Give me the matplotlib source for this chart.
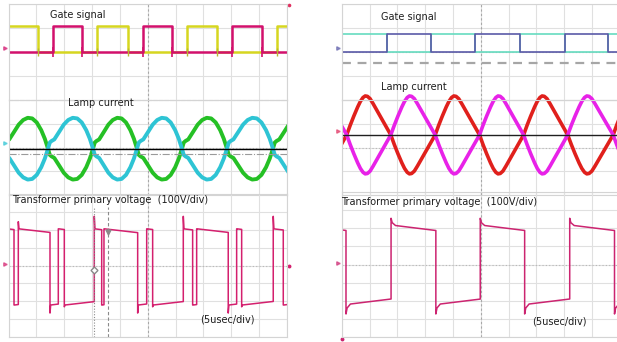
import matplotlib
matplotlib.use("Agg")
import matplotlib.pyplot as plt
from matplotlib.patches import Rectangle
import numpy as np

# ------------------------------------------------------------
# Datos (tiempo en usec, 5 usec/div)
# ------------------------------------------------------------
# Pantalla izquierda
gate_y_edges = [5.3, 15.9, 21.5, 32.0, 37.4, 48.2]          # amarilla, empieza alta
gate_m_edges = [8.0, 13.2, 24.2, 29.4, 40.1, 45.5]          # magenta, empieza baja
gate_left_hi = 1.08                                          # div

lamp_left_cross = [-1.0, 7.09, 15.17, 23.07, 31.14, 39.22, 47.48, 55.6]
lamp_left_amp = 1.3
lamp_left_zero = -0.05
lamp_left_frac = [0, 0.04, 0.08, 0.14, 0.25, 0.35, 0.45, 0.55, 0.65, 0.75, 0.85, 0.93, 1.0]
lamp_left_shape = [0, 0.2, 0.25, 0.3, 0.55, 0.78, 0.93, 1.0, 0.98, 0.85, 0.6, 0.32, 0]

volt_left_edges = [-0.2, 0.99, 1.76, 7.45, 8.94, 10.02, 15.40, 16.73, 17.14, 23.19, 24.81,
                   25.88, 31.38, 33.06, 33.78, 39.45, 40.96, 41.86, 47.53, 49.33]
volt_left_over = [0, 0, 40, 45, 0, 10, 70, 0, 0, 45, 0, 10, 70, 0, 0, 45, 0, 10, 70, 0]
volt_left_hi = 205
volt_left_lo = -221
volt_left_droop = 3.5           # V/usec

# Pantalla derecha
gate_right_edges = [8.07, 16.0, 24.0, 32.0, 40.1, 47.9]
gate_right_hi = 0.75

lamp_right_cross = [-7.1, 0.85, 8.79, 16.79, 24.78, 32.72, 40.67, 48.86, 56.8]
lamp_right_amp = 1.64
lamp_right_zero = 0.53
lamp_right_frac = [0, 0.08, 0.16, 0.25, 0.31, 0.37, 0.42, 0.47, 0.53, 0.6, 0.7, 0.8, 0.9, 1.0]
lamp_right_shape = [0, 0.25, 0.48, 0.72, 0.86, 0.96, 1.0, 0.99, 0.93, 0.8, 0.6, 0.4, 0.2, 0]

volt_right_edges = [-7.3, 0.72, 8.84, 16.91, 24.91, 32.91, 41.03, 49.10]
volt_right_over = [0, 55, 40, 55, 40, 55, 40, 55]
volt_right_hi = 215
volt_right_lo = -218
volt_right_droop = 3.4

W, H = 617, 342


def box(x0, y0, x1, y1):
    return [x0 / W, 1 - y1 / H, (x1 - x0) / W, (y1 - y0) / H]


def step_trace(edges, start, other, t_end=50.0):
    t, v = [0.0], [start]
    cur, nxt = start, other
    for e in edges:
        t += [e, e]
        v += [cur, nxt]
        cur, nxt = nxt, cur
    t.append(t_end)
    v.append(cur)
    return t, v


def lobe_trace(cross, frac, shape, amp, zero, first_sign):
    t, v = [], []
    sign = first_sign
    for c0, c1 in zip(cross[:-1], cross[1:]):
        for f, s in zip(frac, shape):
            t.append(c0 + f * (c1 - c0))
            v.append(zero + sign * amp * s)
        sign = -sign
    return t, v


def volt_trace(edges, over, hi, lo, droop, settle_dt, settle_fr, t_end=50.0):
    t, v = [], []
    level = hi
    for i, s in enumerate(edges):
        e = edges[i + 1] if i + 1 < len(edges) else t_end
        sgn = 1 if level > 0 else -1
        for dt, fr in zip(settle_dt, settle_fr):
            t.append(s + dt)
            v.append(level + sgn * over[i] * fr)
        t.append(e)
        v.append(level - sgn * droop * (e - s))
        level = lo if level == hi else hi
    return t, v


def scope_axes(fig, rect, ylim, ndiv_y):
    ax = fig.add_axes(rect)
    ax.set_xlim(0, 50)
    ax.set_ylim(*ylim)
    ax.set_xticks(np.arange(0, 51, 5))
    ax.set_yticks(np.linspace(ylim[0], ylim[1], ndiv_y + 1))
    ax.tick_params(length=0, labelbottom=False, labelleft=False)
    ax.grid(True, color="#e0e0e0", lw=0.8)
    ax.axvline(25, color="#a8a8a8", lw=0.8, ls=(0, (2, 2)))
    ax.axhline((ylim[0] + ylim[1]) / 2, color="#b8b8b8", lw=0.8, ls=(0, (1, 2)))
    for sp in ax.spines.values():
        sp.set_color("#d4d4d4")
        sp.set_linewidth(0.8)
    ax.set_facecolor("none")
    ax.set_axisbelow(True)
    return ax


def ch_mark(ax, y, color):
    # pequeño indicador de canal en el borde izquierdo
    ax.plot([-0.7], [y], marker=">", ms=2.5, color=color, alpha=0.6, clip_on=False)


fig = plt.figure(figsize=(6.17, 3.42), dpi=100)
fig.patch.set_facecolor("white")
txt = dict(fontsize=7.0, color="#1e1e1e", va="center", family="DejaVu Sans")

# ---------------- pantalla izquierda ----------------
axg = scope_axes(fig, box(8.5, 4, 287, 100), (-2, 2), 4)
t, v = step_trace(gate_y_edges, gate_left_hi, 0.0)
axg.plot(t, v, color="#d6d620", lw=1.8)
t, v = step_trace(gate_m_edges, 0.0, gate_left_hi)
axg.plot(t, v, color="#d2106c", lw=1.8)
axg.plot(gate_m_edges, [0] * len(gate_m_edges), ls="none", marker="|", ms=7,
         mew=1.2, color="#d2106c")
axg.plot(gate_y_edges, [0] * len(gate_y_edges), ls="none", marker="|", ms=6,
         mew=1.0, color="#b8b830")
axg.spines["bottom"].set_linestyle((0, (3, 2)))
axg.plot([50.3], [1.95], marker="o", ms=1.6, color="#e03060", clip_on=False)
ch_mark(axg, 0.15, "#d2106c")

axl = scope_axes(fig, box(8.5, 100, 287, 195), (-2, 2), 4)
t, v = lobe_trace(lamp_left_cross, lamp_left_frac, lamp_left_shape,
                  lamp_left_amp, lamp_left_zero, 1)
axl.plot(t, v, color="#25c025", lw=2.8, solid_joinstyle="round")
t, v = lobe_trace(lamp_left_cross, lamp_left_frac, lamp_left_shape,
                  lamp_left_amp, lamp_left_zero, -1)
axl.plot(t, v, color="#2ec4d4", lw=2.8, solid_joinstyle="round")
axl.axhline(lamp_left_zero, color="black", lw=1.0)
axl.axhline(-0.27, color="#9a9a9a", lw=0.8, ls="-.")
ch_mark(axl, 0.2, "#2ec4d4")

axv = scope_axes(fig, box(8.5, 194, 287, 337), (-400, 400), 8)
t, v = volt_trace(volt_left_edges, volt_left_over, volt_left_hi, volt_left_lo,
                  volt_left_droop, [0, 0.12], [1, 0])
axv.plot(t, v, color="#d4206e", lw=1.1)
axv.plot([15.4, 15.4], [-400, 325], color="#8a8a8a", lw=0.8, ls=(0, (1, 1.5)))
axv.plot([17.9, 17.9], [-400, 325], color="#8a8a8a", lw=0.8, ls=(0, (3, 2)))
axv.plot([15.4], [-25], marker="D", ms=3.5, mfc="white", mec="#8a8a8a")
axv.plot([17.9], [187], marker="v", ms=3.5, color="#8a8a8a")
axv.plot([50.4], [0], marker="o", ms=1.8, color="#d4206e", clip_on=False)
ch_mark(axv, 10, "#d4206e")

fig.text(50 / W, 1 - 15 / H, "Gate signal", **txt)
fig.text(68 / W, 1 - 103 / H, "Lamp current", **txt)
fig.text(12 / W, 1 - 200 / H, "Transformer primary voltage  (100V/div)", **txt)
fig.text(200 / W, 1 - 320 / H, "(5usec/div)", **txt)

# ---------------- pantalla derecha ----------------
axg2 = scope_axes(fig, box(342, 4, 619.5, 100), (-2, 2), 4)
t, v = step_trace(gate_right_edges, gate_right_hi, 0.0)
axg2.plot(t, v, color="#66dcc0", lw=1.2)
t, v = step_trace(gate_right_edges, 0.0, gate_right_hi)
axg2.plot(t, v, color="#5a5aa8", lw=1.2)
axg2.axhline(-0.46, color="#a6a6a6", lw=1.6, ls=(0, (4, 3)))
ch_mark(axg2, 0.15, "#5a5aa8")

axl2 = scope_axes(fig, box(342, 100, 619.5, 195), (-2, 2), 4)
# las crestas sobresalen un poco por arriba de la ventana
clip = Rectangle((0, -0.1), 1, 1.3, transform=axl2.transAxes)
t, v = lobe_trace(lamp_right_cross, lamp_right_frac, lamp_right_shape,
                  lamp_right_amp, lamp_right_zero, -1)
ln1, = axl2.plot(t, v, color="#e0201c", lw=2.6, solid_joinstyle="round")
t, v = lobe_trace(lamp_right_cross, lamp_right_frac, lamp_right_shape,
                  lamp_right_amp, lamp_right_zero, 1)
ln2, = axl2.plot(t, v, color="#e822e8", lw=2.6, solid_joinstyle="round")
for ln in (ln1, ln2):
    ln.set_clip_path(clip)
axl2.axhline(lamp_right_zero, color="#202020", lw=1.0)
ch_mark(axl2, lamp_right_zero + 0.15, "#e03060")

axv2 = scope_axes(fig, box(342, 192, 619.5, 337), (-400, 400), 8)
t, v = volt_trace(volt_right_edges, volt_right_over, volt_right_hi, volt_right_lo,
                  volt_right_droop, [0, 0.2, 0.8], [1, 0.4, 0])
axv2.plot(t, v, color="#cc2470", lw=1.1)
axv2.plot([0], [-410], marker="o", ms=1.8, color="#cc2470", clip_on=False)
ch_mark(axv2, 10, "#cc2470")

fig.text(381 / W, 1 - 17 / H, "Gate signal", **txt)
fig.text(381 / W, 1 - 87 / H, "Lamp current", **txt)
fig.text(341 / W, 1 - 202 / H, "Transformer primary voltage  (100V/div)", **txt)
fig.text(532 / W, 1 - 321 / H, "(5usec/div)", **txt)

fig.savefig("out.png", dpi=100)
